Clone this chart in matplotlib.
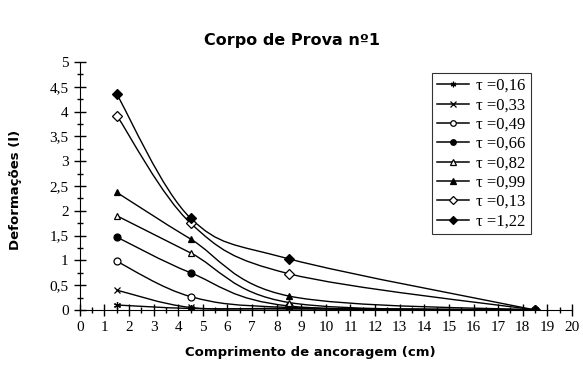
import numpy as np
import matplotlib.pyplot as plt
from matplotlib.path import Path
from matplotlib.patches import PathPatch
from matplotlib.lines import Line2D
from matplotlib.ticker import MultipleLocator, FuncFormatter

# dados
comprimento = [1.5, 4.5, 8.5, 18.5]
tau_labels = ["0,16", "0,33", "0,49", "0,66", "0,82", "0,99", "0,13", "1,22"]
def_016 = [0.10, 0.03, 0.02, 0.0]
def_033 = [0.40, 0.05, 0.03, 0.0]
def_049 = [0.98, 0.27, 0.05, 0.0]
def_066 = [1.47, 0.75, 0.08, 0.0]
def_082 = [1.90, 1.15, 0.15, 0.0]
def_099 = [2.37, 1.43, 0.28, 0.0]
def_013 = [3.92, 1.75, 0.73, 0.0]
def_122 = [4.35, 1.85, 1.03, 0.0]
series = [def_016, def_033, def_049, def_066, def_082, def_099, def_013, def_122]

# estilo dos marcadores (marker, preenchido?)
estilos = [((6, 2, 0), True), ("x", True), ("o", False), ("o", True),
           ("^", False), ("^", True), ("D", False), ("D", True)]

plt.rcParams['font.family'] = ['Liberation Serif', 'DejaVu Serif']


def smooth_path(x, y):
    """curva suavizada (tipo excel) passando pelos pontos"""
    p = np.column_stack([x, y]).astype(float)
    pts = np.vstack([p[0], p, p[-1]])
    verts = [p[0]]
    codes = [Path.MOVETO]
    for i in range(1, len(pts) - 2):
        c1 = pts[i] + (pts[i + 1] - pts[i - 1]) / 6
        c2 = pts[i + 1] - (pts[i + 2] - pts[i]) / 6
        verts += [c1, c2, pts[i + 1]]
        codes += [Path.CURVE4] * 3
    return Path(verts, codes)


fig = plt.figure(figsize=(5.83, 3.69), dpi=100)
ax = fig.add_axes([0.137, 0.160, 0.844, 0.672])

handles = []
for vals, (mk, filled), lab in zip(series, estilos, tau_labels):
    ax.add_patch(PathPatch(smooth_path(comprimento, vals), fill=False,
                           edgecolor="black", lw=1.0))
    fc = "black" if filled else "white"
    ax.plot(comprimento, vals, ls="none", marker=mk, ms=5, mfc=fc,
            mec="black", mew=0.9, zorder=3)
    handles.append(Line2D([], [], color="black", lw=1.1, marker=mk, ms=4,
                          mfc=fc, mec="black", mew=0.9,
                          label="\u03c4 =" + lab))

ax.set_xlim(0, 20)
ax.set_ylim(0, 5)
ax.spines["top"].set_visible(False)
ax.spines["right"].set_visible(False)
ax.xaxis.set_major_locator(MultipleLocator(1))
ax.xaxis.set_minor_locator(MultipleLocator(0.5))
ax.yaxis.set_major_locator(MultipleLocator(0.5))
ax.yaxis.set_minor_locator(MultipleLocator(0.25))
ax.yaxis.set_major_formatter(FuncFormatter(lambda v, p: f"{v:g}".replace(".", ",")))
ax.tick_params(axis="both", which="major", direction="inout", length=8,
               width=1, labelsize=11, pad=4)
ax.tick_params(axis="both", which="minor", direction="inout", length=5, width=1)

fig.text(0.5, 0.89, "Corpo de Prova nº1", ha="center", va="center",
         fontsize=11.5, fontweight="bold", family="DejaVu Sans")
fig.text(0.533, 0.046, "Comprimento de ancoragem (cm)", ha="center",
         va="center", fontsize=9.5, fontweight="bold", family="DejaVu Sans")
fig.text(0.026, 0.485, "Deformações (l)", ha="center", va="center",
         rotation=90, fontsize=9.5, fontweight="bold", family="DejaVu Sans")

leg = fig.legend(handles=handles, loc="upper left",
                 bbox_to_anchor=(0.741, 0.802), bbox_transform=fig.transFigure,
                 borderaxespad=0, fontsize=12, frameon=True, fancybox=False,
                 handlelength=1.9, handletextpad=0.45, labelspacing=0.2,
                 borderpad=0.3)
leg.get_frame().set_edgecolor("black")
leg.get_frame().set_linewidth(0.8)

fig.savefig("out.png", dpi=100)
